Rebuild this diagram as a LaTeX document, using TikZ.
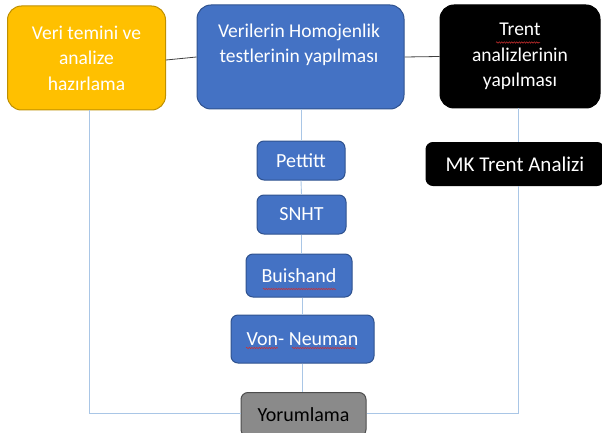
\documentclass[tikz,border=0pt]{standalone}
\usepackage{fontspec}
\setmainfont{Carlito}
\usetikzlibrary{decorations.pathmorphing}
\definecolor{gold}{HTML}{FFC000}
\definecolor{goldline}{HTML}{BF9000}
\definecolor{bluefill}{HTML}{4472C4}
\definecolor{blueline}{HTML}{2F528F}
\definecolor{grayfill}{HTML}{8A8A8A}
\definecolor{grayline}{HTML}{4D4D4D}
\definecolor{conn}{HTML}{A9C6E6}
\definecolor{squig}{HTML}{D03030}
\tikzset{
  bigbox/.style={rounded corners=14pt, line width=1pt, align=center, inner sep=0pt, font=\fontsize{19.5}{25.5}\selectfont},
  smallbox/.style={rounded corners=7pt, line width=1pt, align=center, inner sep=0pt, font=\fontsize{20}{24}\selectfont},
  lconn/.style={draw=conn, line width=0.9pt},
  dconn/.style={draw=black!75, line width=0.8pt},
  wavy/.style={draw=squig, line width=0.5pt, decorate, decoration={snake, amplitude=0.7pt, segment length=2.5pt}}
}
\begin{document}
\begin{tikzpicture}[x=1pt,y=-1pt]
\useasboundingbox (0,0) rectangle (602,433);
% top boxes
\node[bigbox, draw=goldline, fill=gold, text=white, minimum width=158pt, minimum height=104pt] (veri) at (86.5,58) {Veri temini ve\\analize\\hazırlama};
\node[bigbox, draw=blueline, fill=bluefill, minimum width=207pt, minimum height=104pt] (homo) at (300.5,57) {};
\node[align=center, inner sep=0pt, text=white, font=\fontsize{19.5}{25.5}\selectfont] (homotxt) at (299,44.7) {Verilerin Homojenlik\\testlerinin yapılması};
\node[bigbox, draw=black, fill=black, text=white, minimum width=160pt, minimum height=103pt] (trent) at (520,56.5) {Trent\\analizlerinin\\yapılması};
% named connector points
\coordinate (lc) at (89,413);
\coordinate (rc) at (518,413);
\coordinate (vtop) at (89,110);
\coordinate (ttop) at (518,108);
% small boxes
\node[smallbox, draw=blueline, fill=bluefill, text=white, minimum width=88pt, minimum height=39pt] (pet) at (301,160.5) {Pettitt};
\node[smallbox, draw=blueline, fill=bluefill, text=white, minimum width=89pt, minimum height=39pt] (snht) at (301.5,214.5) {SNHT};
\node[smallbox, draw=blueline, fill=bluefill, text=white, minimum width=106pt, minimum height=43pt] (bui) at (299,275.5) {Buishand};
\node[smallbox, draw=blueline, fill=bluefill, text=white, minimum width=143pt, minimum height=48pt] (von) at (302.5,339) {Von- Neuman};
\node[smallbox, draw=grayline, fill=grayfill, text=black, minimum width=125pt, minimum height=44pt, anchor=north] (yor) at (303.5,392) {Yorumlama};
\node[smallbox, draw=black, fill=black, text=white, minimum width=178pt, minimum height=43pt, font=\fontsize{21}{24}\selectfont] (mk) at (515,164) {MK Trent Analizi};
% connectors
\draw[dconn] (veri.east) ++(0,2) coordinate (ve) (homo.west) ++(0,0) coordinate (hw);
\draw[dconn] (ve) -- (hw);
\draw[dconn] (homo.east) -- (trent.west);
\draw[lconn] (homo.south -| pet.north) -- (pet.north);
\draw[lconn] (pet.south) -- (snht.north);
\draw[lconn] (snht.south) -- (snht.south |- bui.north);
\draw[lconn] (bui.south -| von.north) -- (von.north);
\draw[lconn] (von.south) -- (von.south |- yor.north);
\draw[lconn] (veri.south -| vtop) -- (lc) -- (lc -| yor.west);
\draw[lconn] (trent.south -| ttop) -- (mk.north -| ttop);
\draw[lconn] (mk.south -| ttop) -- (rc) -- (rc -| yor.east);
% spell-check squiggles
\draw[wavy] (496,42.5) -- (540,42.5);
\draw[wavy] (246,348) -- (278,348);
\draw[wavy] (292,348) -- (356,348);
\draw[wavy] (263,289) -- (336,289);
\end{tikzpicture}
\end{document}
